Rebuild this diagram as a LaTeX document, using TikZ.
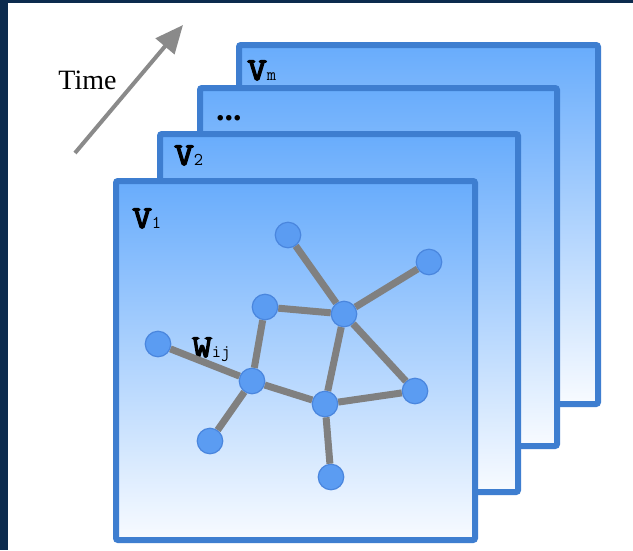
\documentclass[tikz,border=0pt]{standalone}
\usepackage{fontspec}
\setmainfont{Liberation Serif}
\newfontfamily\vfont{Latin Modern Mono}[FakeBold=4,FakeStretch=1.2]
\usetikzlibrary{arrows.meta}
\definecolor{navy}{HTML}{0C2B4E}
\definecolor{framec}{HTML}{3E7ED0}
\definecolor{ftop}{HTML}{68ACFC}
\definecolor{fbot}{HTML}{F8FBFF}
\definecolor{vfill}{HTML}{5B9CF2}
\definecolor{vdraw}{HTML}{4A86DE}
\definecolor{edgec}{HTML}{808080}
\definecolor{arrowc}{HTML}{8A8A8A}
\newcommand{\bigv}[1]{{\fontsize{32}{32}\vfont #1}}
\newcommand{\subt}[1]{{\fontsize{18}{18}\selectfont\ttfamily #1}}
\begin{document}
\begin{tikzpicture}[x=1pt,y=-1pt,
  frame/.style={draw=framec,line width=6pt,rounded corners=2pt,top color=ftop,bottom color=fbot},
  vtx/.style={circle,fill=vfill,draw=vdraw,line width=1.2pt,minimum size=25.5pt,inner sep=0pt},
  link/.style={draw=edgec,line width=7pt},
  lbl/.style={anchor=base west,inner sep=0pt}]
\useasboundingbox (0,0) rectangle (633,550);
\fill[white] (0,0) rectangle (633,550);
\fill[navy] (0,0) rectangle (8,550);
\fill[navy] (0,0) rectangle (633,3);
% time arrow
\coordinate (ts) at (75,153);
\coordinate (te) at (183,25);
\draw[arrowc,line width=4pt,-{Triangle[length=28pt,width=24pt]}] (ts) -- (te);
\node[anchor=base,inner sep=0pt,font=\fontsize{28}{28}\selectfont] (time) at (87.5,89) {Time};
% frames
\draw[frame] (239,45) rectangle (598,404);
\draw[frame] (200,88) rectangle (557,446);
\draw[frame] (160,134) rectangle (518,492);
\draw[frame] (116,181) rectangle (475,540);
% labels
\node[lbl] (vm) at (247,80) {\bigv{V}\subt{m}};
\node[lbl,font=\fontsize{34}{34}\selectfont\bfseries] (dots) at (216,120) {...};
\node[lbl] (v2) at (174,165) {\bigv{V}\subt{2}};
\node[lbl] (v1) at (132,228) {\bigv{V}\subt{1}};
\node[lbl] (wij) at (192,357) {\bigv{W}\subt{ij}};
% graph
\node[vtx] (n1) at (288,235) {};
\node[vtx] (n2) at (429,262) {};
\node[vtx] (n3) at (344,314) {};
\node[vtx] (n4) at (265,307) {};
\node[vtx] (n5) at (158,344) {};
\node[vtx] (n6) at (252,381) {};
\node[vtx] (n7) at (325,404) {};
\node[vtx] (n8) at (415,391) {};
\node[vtx] (n9) at (210,441) {};
\node[vtx] (n10) at (331,477) {};
\draw[link] (n1) -- (n3);
\draw[link] (n2) -- (n3);
\draw[link] (n4) -- (n3);
\draw[link] (n4) -- (n6);
\draw[link] (n5) -- (n6);
\draw[link] (n6) -- (n9);
\draw[link] (n6) -- (n7);
\draw[link] (n3) -- (n7);
\draw[link] (n3) -- (n8);
\draw[link] (n7) -- (n8);
\draw[link] (n7) -- (n10);
\end{tikzpicture}
\end{document}
